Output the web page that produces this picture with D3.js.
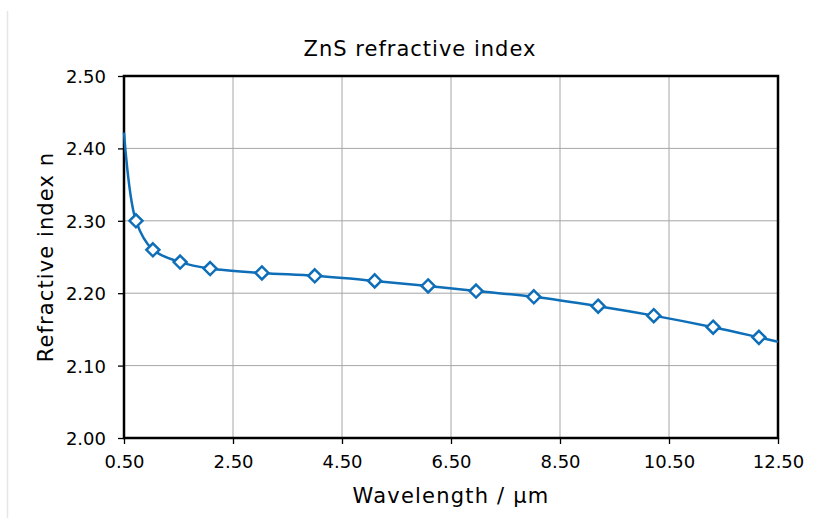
<!DOCTYPE html>
<html>
<head>
<meta charset="utf-8">
<script src="https://cdn.jsdelivr.net/npm/d3@7"></script>
<style>
  body { margin: 0; background: #fff; }
  text { font-family: "DejaVu Sans", Verdana, sans-serif; fill: #000; }
</style>
</head>
<body>
<svg id="chart" width="827" height="518"></svg>
<script>
// measured points (markers)
var wavelength = [0.72, 1.03, 1.53, 2.08, 3.03, 4.0, 5.1, 6.08, 6.96, 8.02, 9.2, 10.22, 11.31, 12.15];
var nIndex     = [2.300, 2.260, 2.243, 2.234, 2.228, 2.224, 2.217, 2.210, 2.203, 2.195, 2.182, 2.169, 2.153, 2.139];
// line also runs to the axis edges
var lineX = [0.5].concat(wavelength, [12.5]);
var lineN = [2.422].concat(nIndex, [2.133]);

var xTicks = [0.5, 2.5, 4.5, 6.5, 8.5, 10.5, 12.5];
var yTicks = [2.0, 2.1, 2.2, 2.3, 2.4, 2.5];

var svg = d3.select("#chart");
var plotLeft = 124, plotRight = 778, plotTop = 76, plotBottom = 438;

// faint outer border on the left
svg.append("line")
  .attr("x1", 7.5).attr("x2", 7.5)
  .attr("y1", 11).attr("y2", 518)
  .style("stroke", "#e6e6e6")
  .style("stroke-width", 1.5);

var x = d3.scaleLinear().domain([0.5, 12.5]).range([plotLeft, plotRight]);
var y = d3.scaleLinear().domain([2.0, 2.5]).range([plotBottom, plotTop]);

// grid
svg.append("g")
  .selectAll("line")
  .data(xTicks.slice(1, -1))
  .enter()
  .append("line")
    .attr("x1", function(d){ return x(d)}).attr("x2", function(d){ return x(d)})
    .attr("y1", plotTop).attr("y2", plotBottom)
    .style("stroke", "#a6a6a6");

svg.append("g")
  .selectAll("line")
  .data(yTicks.slice(1, -1))
  .enter()
  .append("line")
    .attr("x1", plotLeft).attr("x2", plotRight)
    .attr("y1", function(d){ return y(d)}).attr("y2", function(d){ return y(d)})
    .style("stroke", "#a6a6a6");

// axes
var xAxis = svg.append("g")
  .attr("transform", "translate(0," + plotBottom + ")")
  .call(d3.axisBottom(x).tickValues(xTicks).tickFormat(d3.format(".2f")).tickSize(6).tickPadding(8));

var yAxis = svg.append("g")
  .attr("transform", "translate(" + plotLeft + ",0)")
  .call(d3.axisLeft(y).tickValues(yTicks).tickFormat(d3.format(".2f")).tickSize(6).tickPadding(12));

[xAxis, yAxis].forEach(function(g){
  g.select(".domain").remove();
  g.selectAll(".tick line").style("stroke", "#000").style("stroke-width", 1.3);
  g.selectAll("text").style("font-size", "18px").style("font-family", "DejaVu Sans, Verdana, sans-serif");
});
xAxis.selectAll("text").attr("dy", "0.9em");
yAxis.selectAll("text").attr("dy", "0.36em");

// frame
svg.append("rect")
  .attr("x", plotLeft).attr("y", plotTop)
  .attr("width", plotRight - plotLeft).attr("height", plotBottom - plotTop)
  .style("fill", "none")
  .style("stroke", "#000")
  .style("stroke-width", 2.5);

// line
var lineData = lineX.map(function(d, i){ return [d, lineN[i]]; });
svg.append("path")
  .datum(lineData)
  .attr("d", d3.line()
    .x(function(d){ return x(d[0])})
    .y(function(d){ return y(d[1])})
    .curve(d3.curveCatmullRom.alpha(0.5)))
  .style("fill", "none")
  .style("stroke", "#0E6EB8")
  .style("stroke-width", 2.5);

// markers
svg.append("g")
  .selectAll("path")
  .data(wavelength)
  .enter()
  .append("path")
    .attr("transform", function(d, i){ return "translate(" + x(d) + "," + y(nIndex[i]) + ")"; })
    .attr("d", "M0,-6.5L6.5,0L0,6.5L-6.5,0Z")
    .style("fill", "#fff")
    .style("stroke", "#0E6EB8")
    .style("stroke-width", 2.5);

// titles (letter-spacing widens DejaVu toward the original Verdana look)
svg.append("text")
  .attr("x", 420).attr("y", 56)
  .attr("text-anchor", "middle")
  .style("font-size", "21px")
  .style("letter-spacing", "1px")
  .text("ZnS refractive index");

svg.append("text")
  .attr("x", (plotLeft + plotRight) / 2).attr("y", 503)
  .attr("text-anchor", "middle")
  .style("font-size", "21px")
  .style("letter-spacing", "1.2px")
  .text("Wavelength / µm");

svg.append("text")
  .attr("transform", "translate(53," + ((plotTop + plotBottom) / 2) + ") rotate(-90)")
  .attr("text-anchor", "middle")
  .style("font-size", "21px")
  .style("letter-spacing", "1.1px")
  .text("Refractive index n");
</script>
</body>
</html>
